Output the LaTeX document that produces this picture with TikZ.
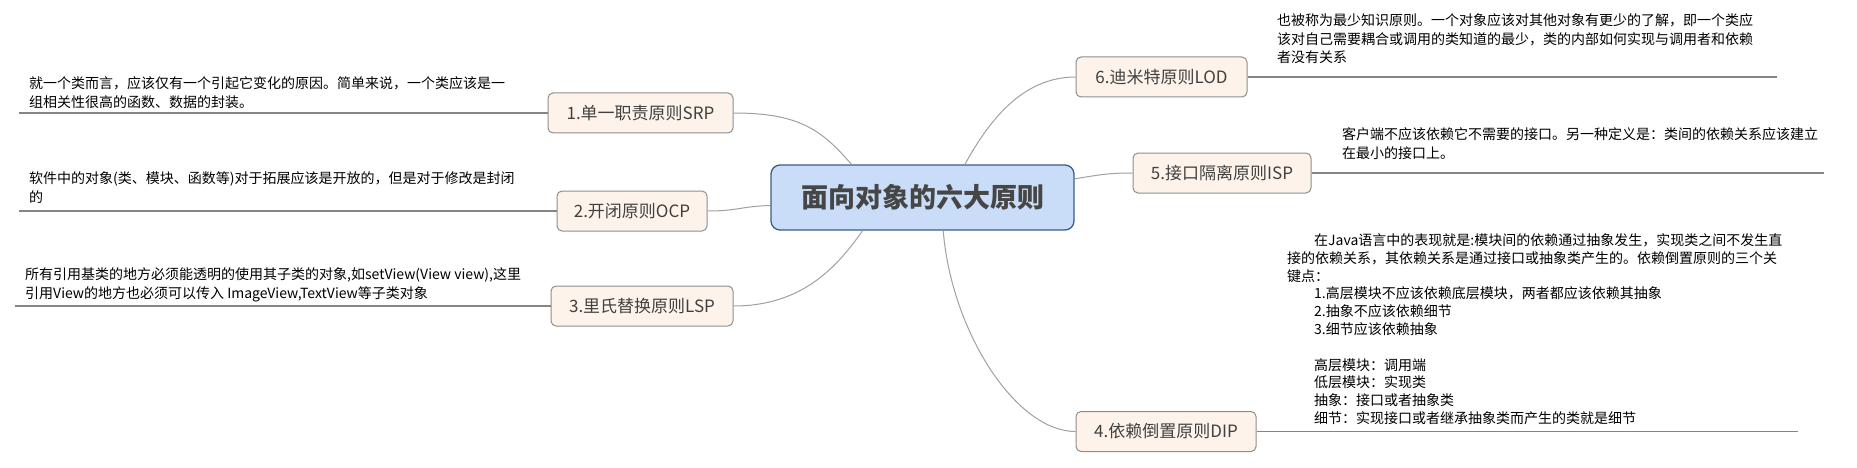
\documentclass[tikz,border=0pt]{standalone}
\usepackage{fontspec}
\setmainfont{Noto Sans CJK SC}
\definecolor{centerfill}{HTML}{C9DDF9}
\definecolor{centerdraw}{HTML}{3D5A8C}
\definecolor{subfill}{HTML}{FDF3EA}
\definecolor{subdraw}{HTML}{8E8E8E}
\definecolor{conncol}{HTML}{A0A0A0}
\definecolor{ulinecol}{HTML}{858585}
\definecolor{labeltext}{HTML}{404040}
\definecolor{titletext}{HTML}{464646}
\newcommand\firststrut{\rule{0pt}{13pt}}
\begin{document}
\begin{tikzpicture}[x=1pt,y=-1pt,
  topic/.style={draw=subdraw, fill=subfill, rounded corners=5pt, line width=1pt,
    minimum height=40pt, inner sep=0pt, font=\fontsize{17}{20}\selectfont, text=labeltext},
  central/.style={draw=centerdraw, fill=centerfill, rounded corners=9pt, line width=1.3pt,
    minimum width=303pt, minimum height=65pt, inner sep=0pt,
    font=\fontsize{27}{32}\selectfont\bfseries, text=titletext},
  note/.style={anchor=north west, inner sep=0pt, align=left,
    font=\fontsize{14}{18.7}\selectfont, text=black},
  branch/.style={draw=conncol, line width=1pt},
  underl/.style={draw=ulinecol, line width=1.2pt}]
\useasboundingbox (0,0) rectangle (1857,468);

% central topic
\node[central] (center) at (922.5,197.5) {面向对象的六大原则};

% main topics
\node[topic, minimum width=185pt] (srp) at (640.5,113) {1.单一职责原则SRP};
\node[topic, minimum width=150pt] (ocp) at (632,211) {2.开闭原则OCP};
\node[topic, minimum width=182pt] (lsp) at (642,306) {3.里氏替换原则LSP};
\node[topic, minimum width=171pt] (lod) at (1161.5,77) {6.迪米特原则LOD};
\node[topic, minimum width=178pt] (isp) at (1222,173) {5.接口隔离原则ISP};
\node[topic, minimum width=180pt] (dip) at (1166,431.5) {4.依赖倒置原则DIP};

% notes
\node[note] (srptext) at (29,75.3) {\firststrut 就一个类而言，应该仅有一个引起它变化的原因。简单来说，一个类应该是一\\组相关性很高的函数、数据的封装。};
\node[note] (ocptext) at (29,170.3) {\firststrut 软件中的对象(类、模块、函数等)对于拓展应该是开放的，但是对于修改是封闭\\的};
\node[note] (lsptext) at (25,266.3) {\firststrut 所有引用基类的地方必须能透明的使用其子类的对象,如setView(View view),这里\\引用View的地方也必须可以传入 ImageView,TextView等子类对象};
\node[note] (lodtext) at (1277,12.3) {\firststrut 也被称为最少知识原则。一个对象应该对其他对象有更少的了解，即一个类应\\该对自己需要耦合或调用的类知道的最少，类的内部如何实现与调用者和依赖\\者没有关系};
\node[note] (isptext) at (1342,126.3) {\firststrut 客户端不应该依赖它不需要的接口。另一种定义是：类间的依赖关系应该建立\\在最小的接口上。};
\node[note, font=\fontsize{14}{17.8}\selectfont] (diptext) at (1287,232.3) {\firststrut\hspace*{27pt}在Java语言中的表现就是:模块间的依赖通过抽象发生，实现类之间不发生直\\接的依赖关系，其依赖关系是通过接口或抽象类产生的。依赖倒置原则的三个关\\键点：\\\hspace*{27pt}1.高层模块不应该依赖底层模块，两者都应该依赖其抽象\\\hspace*{27pt}2.抽象不应该依赖细节\\\hspace*{27pt}3.细节应该依赖抽象\\[17.8pt]\hspace*{27pt}高层模块：调用端\\\hspace*{27pt}低层模块：实现类\\\hspace*{27pt}抽象：接口或者抽象类\\\hspace*{27pt}细节：实现接口或者继承抽象类而产生的类就是细节};

% underlines
\coordinate (srpL) at (19,113);
\coordinate (ocpL) at (19,211);
\coordinate (lspL) at (15,306);
\coordinate (lodR) at (1777,77);
\coordinate (ispR) at (1824,173);
\coordinate (dipR) at (1798,431.5);
\draw[underl] (srp.west) -- (srp.west -| srpL);
\draw[underl] (ocp.west) -- (ocp.west -| ocpL);
\draw[underl] (lsp.west) -- (lsp.west -| lspL);
\draw[underl] (lod.east) -- (lod.east -| lodR);
\draw[underl] (isp.east) -- (isp.east -| ispR);
\draw[underl] (dip.east) -- (dip.east -| dipR);

% branches
\draw[branch] (srp.east) .. controls +(65,0) and +(-30,-35) .. (center.155.85);
\draw[branch] (ocp.east) .. controls +(30,0) and +(-30,1) .. (center.183.2);
\draw[branch] (lsp.east) .. controls +(70,0) and +(-25,35) .. (center.209.5);
\draw[branch] (center.38.7) .. controls +(22,-40) and +(-55,0) .. (lod.west);
\draw[branch] (center.7.7) .. controls +(25,-4) and +(-25,0) .. (isp.west);
\draw[branch] (center.302.2) .. controls +(8,100) and +(-60,0) .. (dip.west);
\end{tikzpicture}
\end{document}
